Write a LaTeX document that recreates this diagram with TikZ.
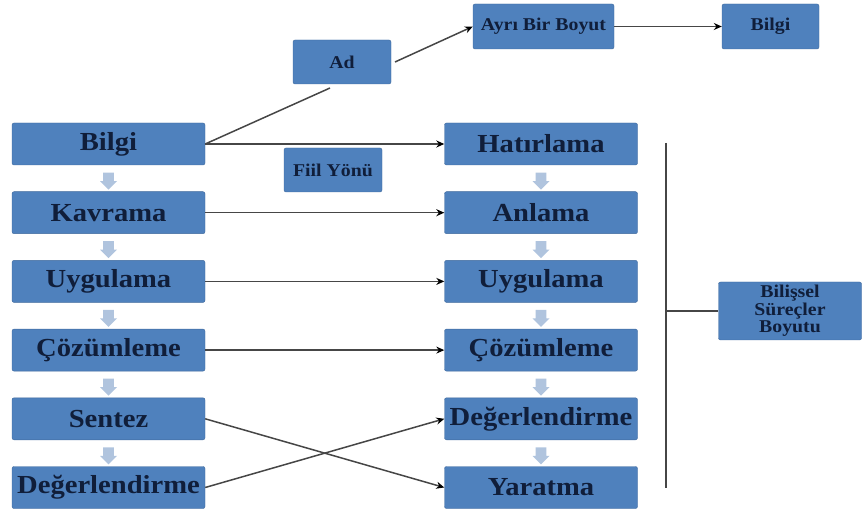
\documentclass[tikz,border=0pt]{standalone}
\usepackage{fontspec}
\setmainfont{Liberation Serif}[FakeStretch=1.1]
\usetikzlibrary{arrows.meta,shapes.arrows}

\definecolor{boxblue}{RGB}{79,129,189}
\definecolor{boxedge}{RGB}{62,104,156}
\definecolor{textnavy}{RGB}{16,30,58}
\definecolor{stepgray}{RGB}{176,196,222}
\definecolor{linegray}{RGB}{70,70,70}

\tikzset{
  level/.style={draw=boxedge, fill=boxblue, rounded corners=2pt, text=textnavy,
    minimum width=193pt, minimum height=42pt, inner sep=0pt,
    font=\bfseries\fontsize{26}{28}\selectfont},
  smallbox/.style={draw=boxedge, fill=boxblue, rounded corners=2pt, text=textnavy,
    minimum width=98pt, minimum height=44pt, inner sep=0pt, align=center,
    font=\bfseries\fontsize{18}{17.5}\selectfont},
  stepdown/.style={single arrow, shape border rotate=270, fill=stepgray,
    minimum width=17pt, single arrow head extend=3pt, minimum height=17pt,
    inner sep=5pt},
  link/.style={draw=linegray, line width=1.5pt},
  tolink/.style={link, -{Stealth[length=8pt,width=7pt,color=black]}}
}

\begin{document}
\begin{tikzpicture}[x=1pt,y=-1pt]
    \useasboundingbox (0,0) rectangle (863,513);

    % Left column: original taxonomy
    \node[level] (bilgi) at (108.5,144) {Bilgi};
    \node[level] (kavrama) at (108.5,212.7) {Kavrama};
    \node[level] (uyg) at (108.5,281.4) {Uygulama};
    \node[level] (coz) at (108.5,350.1) {Çözümleme};
    \node[level] (sentez) at (108.5,418.8) {Sentez};
    \node[level] (deg) at (108.5,487.5) {Değerlendirme};

    % Right column: revised taxonomy
    \node[level] (hatir) at (541,144) {Hatırlama};
    \node[level] (anlama) at (541,212.7) {Anlama};
    \node[level] (ruyg) at (541,281.4) {Uygulama};
    \node[level] (rcoz) at (541,350.1) {Çözümleme};
    \node[level] (rdeg) at (541,418.8) {Değerlendirme};
    \node[level] (yarat) at (541,487.5) {Yaratma};

    % Small arrows between levels
    \foreach \y in {178.35,247.05,315.75,384.45,453.15} {
      \node[stepdown] at (108.5,\y) {};
      \node[stepdown] at (541,\y) {};
    }

    % Top branch
    \node[smallbox] (ad) at (342,62) {Ad};
    \node[smallbox, minimum width=141pt, minimum height=45pt] (boyut) at (543.5,26.5) {Ayrı Bir Boyut};
    \node[smallbox, minimum width=97pt, minimum height=45pt] (bilgitop) at (770.5,26.5) {Bilgi};
    \node[smallbox] (fiil) at (333,170) {Fiil Yönü};
    \node[smallbox, minimum width=143pt, minimum height=58pt] (bilissel) at (790,311) {Bilişsel\\Süreçler\\Boyutu};

    % Connectors
    \coordinate (adlow) at (330,88);
    \coordinate (adout) at (395,62);
    \draw[link] (bilgi.east) -- (adlow);
    \draw[tolink] (adout) -- (boyut.west);
    \draw[tolink] (boyut.east) -- (bilgitop.west);
    \draw[tolink] (bilgi.east) -- (hatir.west);
    \draw[tolink] (kavrama.east) -- (anlama.west);
    \draw[tolink] (uyg.east) -- (ruyg.west);
    \draw[tolink] (coz.east) -- (rcoz.west);
    \draw[tolink] (sentez.east) -- (yarat.west);
    \draw[tolink] (deg.east) -- (rdeg.west);

    % Bracket to the cognitive process box
    \coordinate (btop) at (666,143);
    \coordinate (bbot) at (666,488);
    \coordinate (bmid) at (666,311);
    \draw[link] (btop) -- (bbot);
    \draw[link] (bmid) -- (bilissel.west);
\end{tikzpicture}
\end{document}
